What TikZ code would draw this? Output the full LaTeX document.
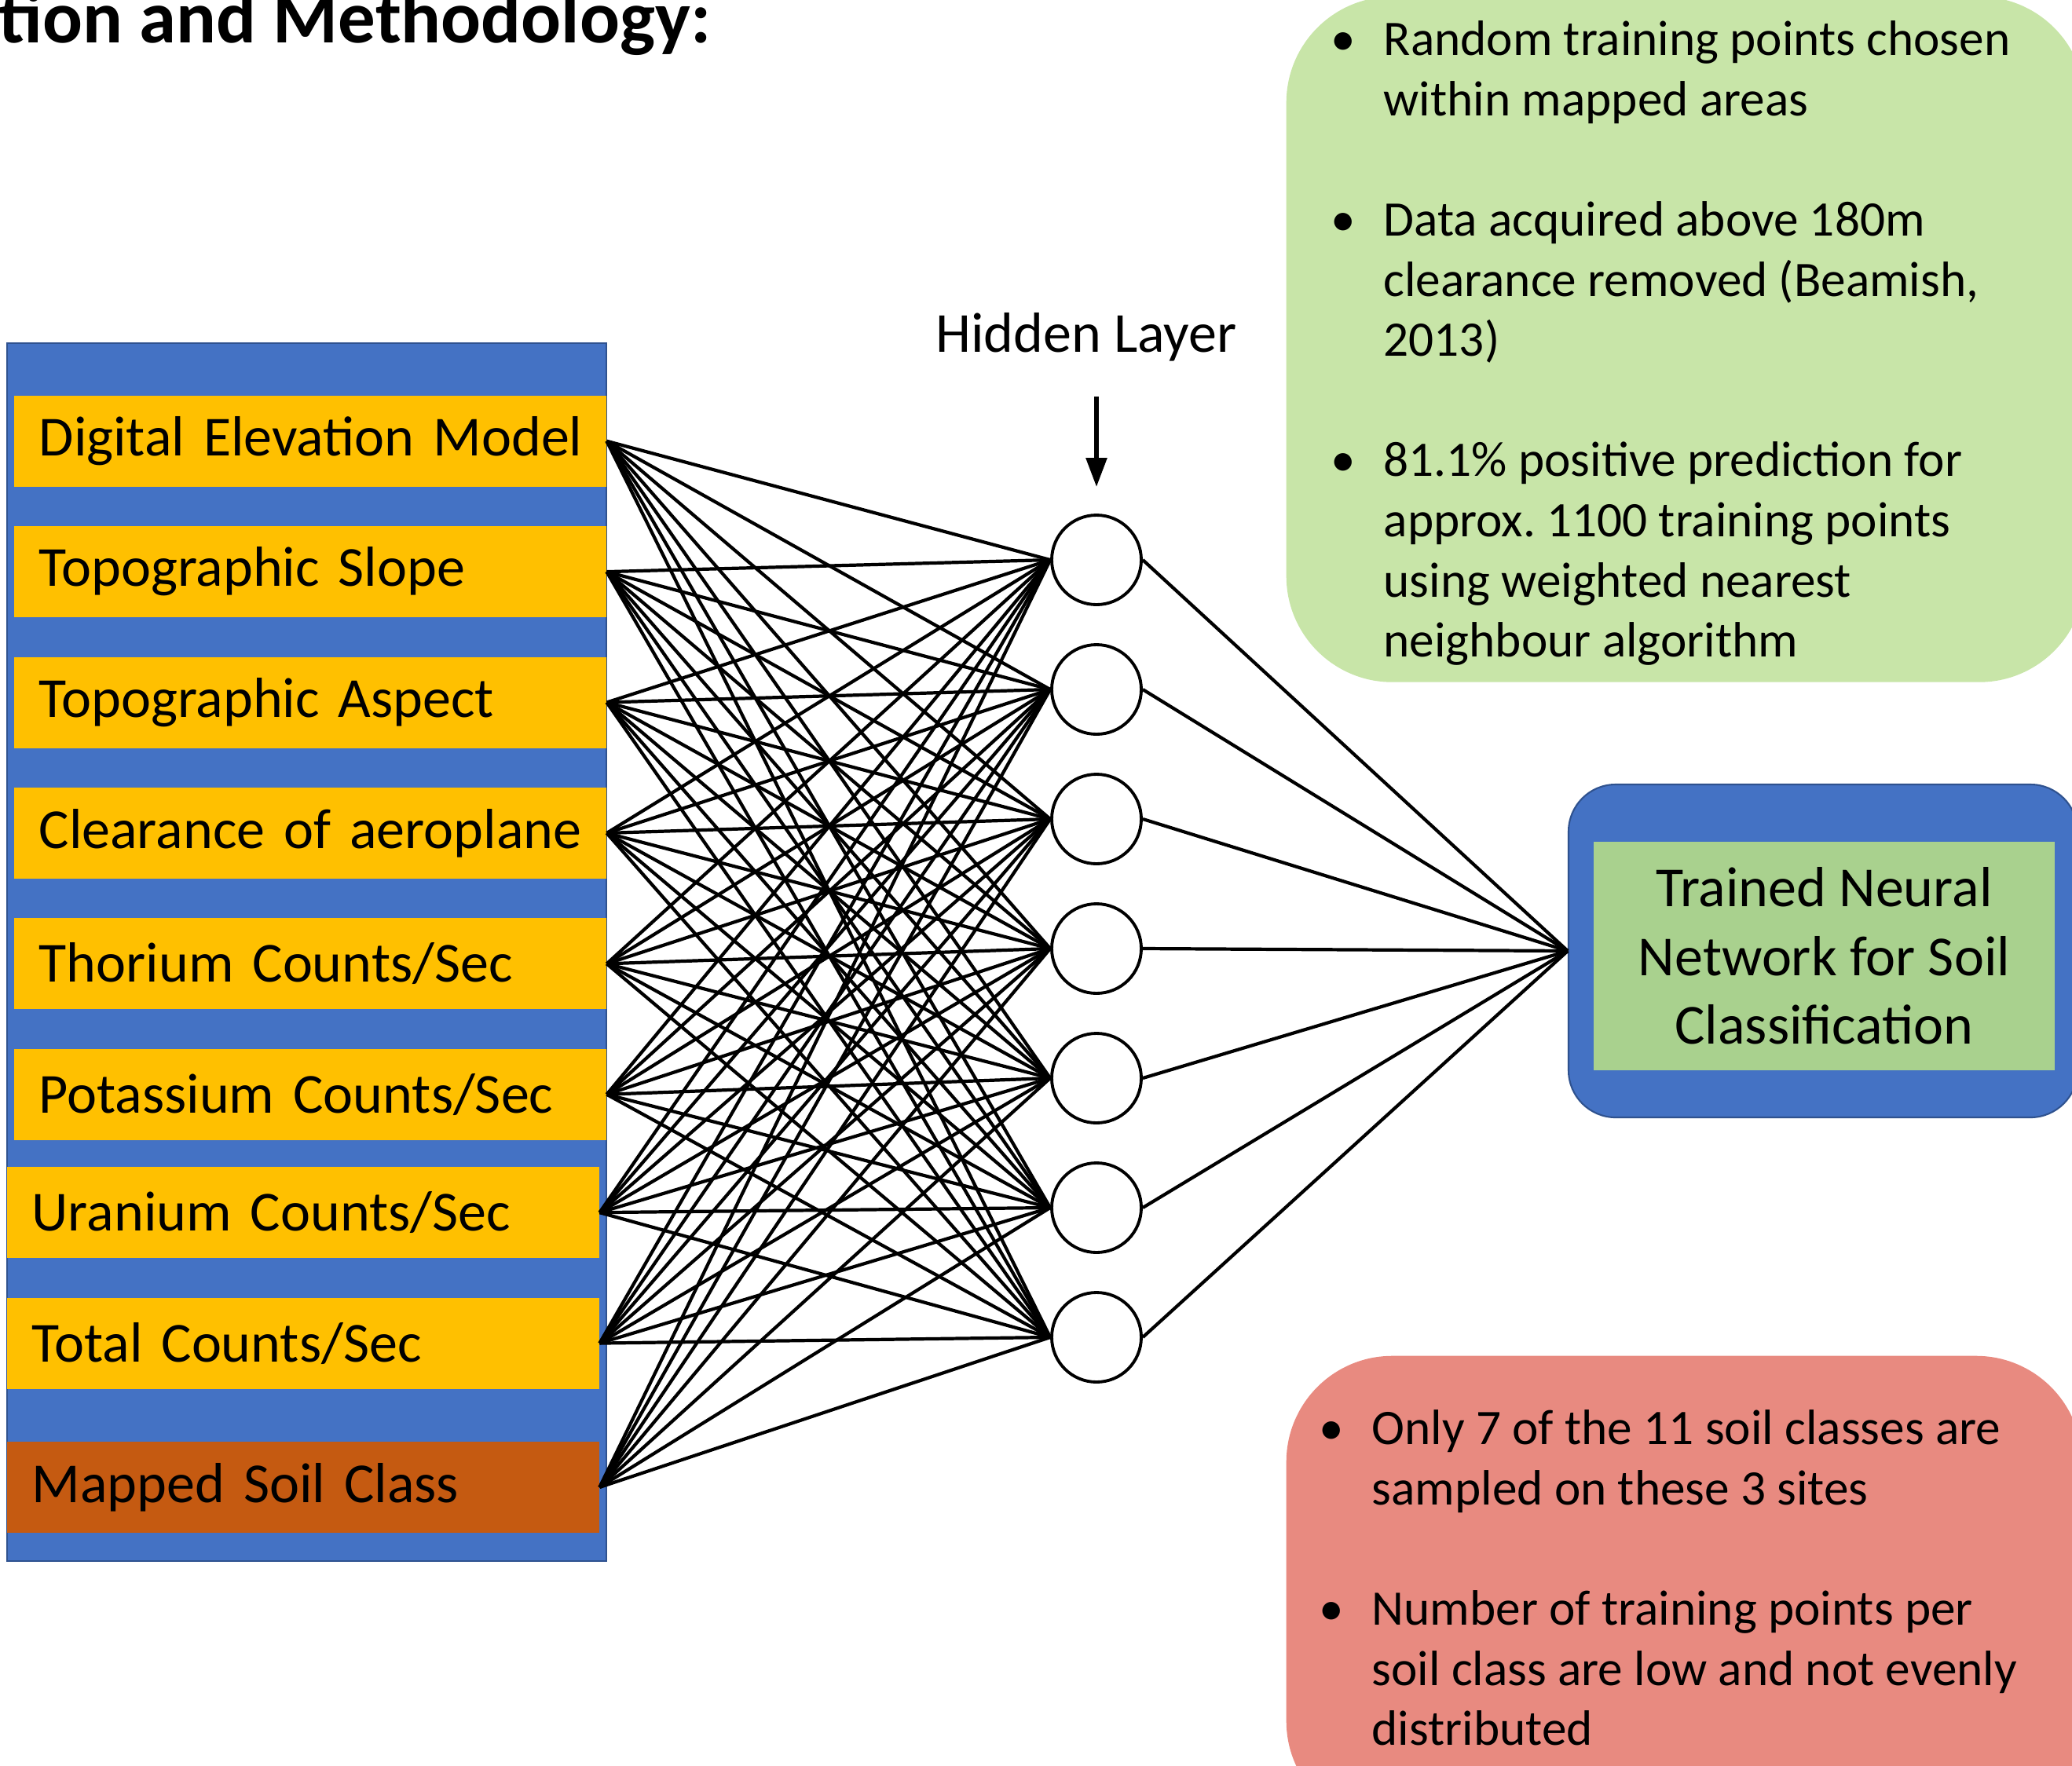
\documentclass[tikz,border=0pt]{standalone}
\usepackage{fontspec}
\setmainfont{Carlito}
\usepackage{tikz}
\usetikzlibrary{arrows.meta,positioning}
\definecolor{snBlue}   {RGB}{ 68,114,196}
\definecolor{snBlueD}  {RGB}{ 47, 82,143}
\definecolor{snYellow} {RGB}{255,192,  0}
\definecolor{snRust}   {RGB}{197, 90, 17}
\definecolor{snGreen}  {RGB}{169,209,142}
\definecolor{snGreenL} {RGB}{200,229,168}
\definecolor{snRed}    {RGB}{232,138,128}
\newcommand{\bandfont}{\fontsize{20.5}{24.9}\selectfont}
\newcommand{\notefont}{\fontsize{18}{21.8}\selectfont}
\newcommand{\headfont}{\bfseries\fontsize{27}{32}\selectfont}
\newcommand{\bul}{\llap{\textbullet\hspace{0.36cm}}}

\begin{document}
\begin{tikzpicture}[
  >={Triangle[length=3.7mm,width=2.6mm]},
  node distance=0.49cm,
  panelbox/.style={fill=snBlue,draw=snBlueD,line width=0.6pt,inner sep=0pt},
  inband/.style={fill=snYellow,text width=7.3cm,inner xsep=0.12cm,inner ysep=0pt,
               minimum height=1.16cm,align=left,font=\bandfont,
               execute at begin node={\hspace*{0.2cm}}},
  hidnode/.style={circle,draw,line width=1.1pt,minimum size=1.14cm,inner sep=0pt},
  link/.style={line width=1.2pt},
  outbox/.style={fill=snBlue,draw=snBlueD,line width=0.6pt,rounded corners=0.6cm,
               minimum width=6.48cm,minimum height=4.24cm},
  outinner/.style={fill=snGreen,minimum width=5.87cm,minimum height=2.91cm,
               align=center,font=\bandfont,inner sep=0pt},
  notebox/.style={rounded corners=1.35cm,inner sep=0pt},
  notetext/.style={align=left,inner sep=0pt,font=\notefont},
]
\useasboundingbox (0,0) rectangle (26.38,-22.48);

% inputs
\node[panelbox,minimum width=7.63cm,minimum height=15.51cm,anchor=north west]
   (panel) at (0.08,-4.36) {};
\node[inband,anchor=north west] (b1) at (0.17,-5.03) {Digital Elevation Model};
\node[inband,below=of b1] (b2) {Topographic Slope};
\node[inband,below=of b2] (b3) {Topographic Aspect};
\node[inband,below=of b3] (b4) {Clearance of aeroplane};
\node[inband,below=of b4] (b5) {Thorium Counts/Sec};
\node[inband,below=of b5] (b6) {Potassium Counts/Sec};
\node[inband,below=0.33cm of b6,xshift=-0.09cm] (b7) {Uranium Counts/Sec};
\node[inband,below=of b7] (b8) {Total Counts/Sec};
\node[inband,below=0.66cm of b8,fill=snRust] (b9) {Mapped Soil Class};

% hidden layer
\foreach \i in {1,...,7}
  \node[hidnode] (h\i) at (13.96,{-7.13-1.65*(\i-1)}) {};
\node[font=\bandfont] (hlabel) at (13.83,-4.29) {Hidden Layer};
\coordinate (harrow) at (13.96,-5.05);
\draw[->,line width=1.6pt] (harrow) -- ([yshift=3.4mm]h1.north);

% output
\node[outbox] (out) at (23.21,-12.11) {};
\node[outinner] (outtxt) at (23.225,-12.175)
   {Trained Neural\\Network for Soil\\Classification};

\foreach \i in {1,...,9}
  \foreach \j in {1,...,7}
    \draw[link] (b\i.east) -- (h\j.west);
\foreach \j in {1,...,7}
  \draw[link] (h\j.east) -- (out.west);

% notes
\node[notebox,fill=snGreenL,minimum width=10.17cm,minimum height=8.73cm,
   anchor=north west] (gnote) at (16.37,0.05) {};
\node[notetext,anchor=north west] (gtext) at ([shift={(1.24,-0.31)}]gnote.north west)
   {\bul Random training points chosen\\
    within mapped areas\\[\baselineskip]
    \bul Data acquired above 180m\\
    clearance removed (Beamish,\\
    2013)\\[\baselineskip]
    \bul 81.1\% positive prediction for\\
    approx.\ 1100 training points\\
    using weighted nearest\\
    neighbour algorithm};
\node[notebox,fill=snRed,minimum width=10.13cm,minimum height=6cm,
   anchor=north west] (rnote) at (16.37,-17.26) {};
\node[notetext,anchor=north west] (rtext) at ([shift={(1.09,-0.69)}]rnote.north west)
   {\bul Only 7 of the 11 soil classes are\\
    sampled on these 3 sites\\[\baselineskip]
    \bul Number of training points per\\
    soil class are low and not evenly\\
    distributed};

\node[font=\headfont,anchor=base west,inner sep=0pt] (title) at (-0.02,-0.54)
   {tion and Methodology:};
\end{tikzpicture}
\end{document}
